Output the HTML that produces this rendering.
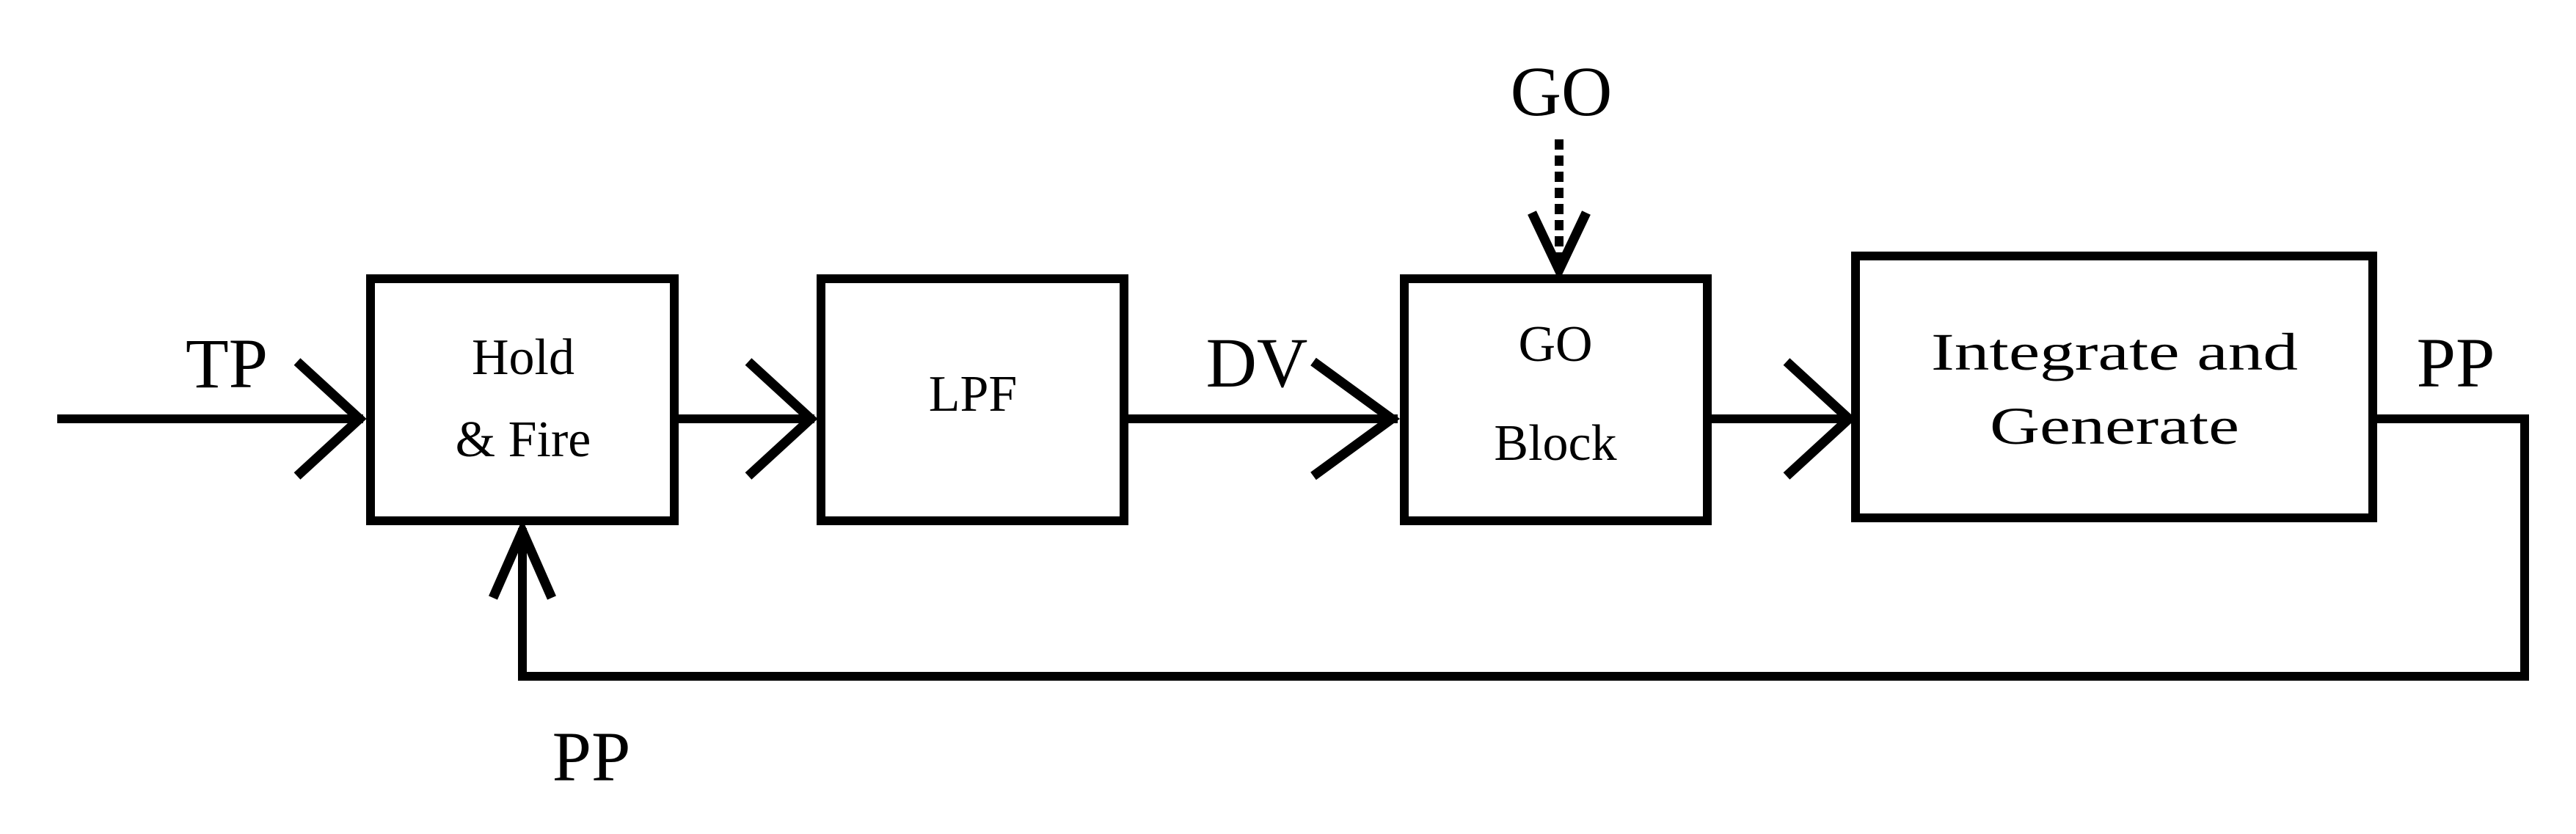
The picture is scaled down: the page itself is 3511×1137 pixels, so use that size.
<!DOCTYPE html>
<html><head><meta charset="utf-8"><style>html,body{margin:0;padding:0;background:#fff}</style></head>
<body>
<svg width="3511" height="1132" viewBox="0 0 3511 1132" xmlns="http://www.w3.org/2000/svg">
<g fill="none" stroke="#000" stroke-width="12">
<rect x="505" y="380" width="414" height="330"/>
<rect x="1119" y="380" width="413" height="330"/>
<rect x="1914" y="380" width="413" height="330"/>
<rect x="2529" y="349" width="705" height="357"/>
<line x1="78" y1="571" x2="495" y2="571"/>
<line x1="925" y1="571" x2="1110" y2="571"/>
<line x1="1538" y1="571" x2="1905" y2="571"/>
<line x1="2333" y1="571" x2="2520" y2="571"/>
<polyline points="3240,571 3441,571 3441,922 712,922 712,720"/>
<line x1="2125" y1="190" x2="2125" y2="360" stroke-dasharray="14,8"/>
</g>
<g fill="none" stroke="#000" stroke-width="13" stroke-linejoin="miter">
<polyline points="405,493 490,571 405,649"/>
<polyline points="1020,493 1105,571 1020,649"/>
<polyline points="1790,493 1897,571 1790,649"/>
<polyline points="2435,493 2520,571 2435,649"/>
<polyline points="672,815 712,724 752,815"/>
<polyline points="2088,290 2125,368 2162,290"/>
</g>
<g font-family="Liberation Serif, serif" fill="#000" text-anchor="middle">
<text x="309" y="528" font-size="96">TP</text>
<text x="1713" y="527" font-size="96">DV</text>
<text x="2128" y="157" font-size="96">GO</text>
<text x="3347" y="527" font-size="96">PP</text>
<text x="806" y="1064" font-size="96">PP</text>
<text x="713" y="510" font-size="70">Hold</text>
<text x="713" y="622" font-size="70">&amp; Fire</text>
<text x="1326" y="560" font-size="70">LPF</text>
<text x="2120" y="492" font-size="70">GO</text>
<text x="2120" y="627" font-size="70">Block</text>
<text x="2882" y="504" font-size="72" textLength="500" lengthAdjust="spacingAndGlyphs">Integrate and</text>
<text x="2882" y="605" font-size="72" textLength="340" lengthAdjust="spacingAndGlyphs">Generate</text>
</g>
</svg>
</body></html>
